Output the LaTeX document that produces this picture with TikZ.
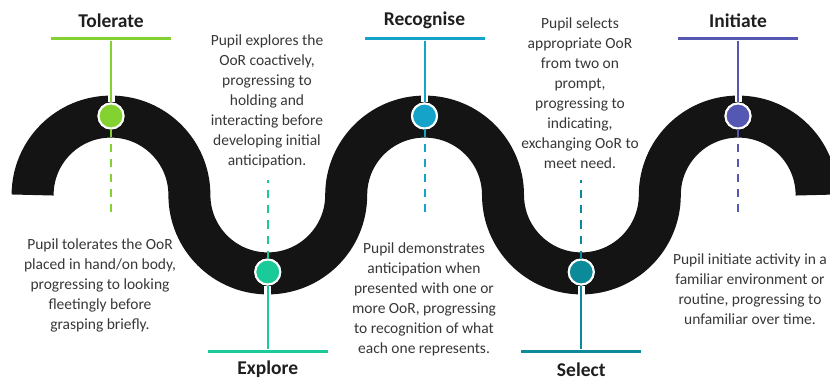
\documentclass[tikz,border=0pt]{standalone}
\usepackage{fontspec}
\setmainfont{Carlito}
\definecolor{tol}{RGB}{132,210,48}
\definecolor{exp}{RGB}{26,202,152}
\definecolor{rec}{RGB}{22,163,201}
\definecolor{sel}{RGB}{11,139,153}
\definecolor{ini}{RGB}{84,88,178}
\definecolor{band}{RGB}{20,20,20}
\definecolor{txt}{RGB}{55,55,55}
\begin{document}
\begin{tikzpicture}[x=1pt,y=1pt,
  dot/.style={circle,draw=white,line width=2pt,minimum size=25pt,inner sep=0pt},
  head/.style={font=\bfseries\fontsize{19.5}{21}\selectfont,text=black!88},
  desc/.style={align=center,font=\fontsize{15.5}{20}\selectfont,text=txt},
  barbox/.style={minimum width=120pt,minimum height=3pt,inner sep=0pt,draw=none},
  stem/.style={line width=2pt},
  gap/.style={white,line width=7pt},
  dsh/.style={line width=2pt,dash pattern=on 8pt off 7pt}]
\useasboundingbox (0,0) rectangle (830,378);
\clip (0,0) rectangle (830,378);
% serpentine band
\draw[line width=42pt,color=band] (32.6,183)
  arc[start angle=180,end angle=0,radius=78.4pt]
  arc[start angle=180,end angle=360,radius=78.4pt]
  arc[start angle=180,end angle=0,radius=78.4pt]
  arc[start angle=180,end angle=360,radius=78.4pt]
  arc[start angle=180,end angle=0,radius=78.4pt];
% dots
\node[dot,fill=tol] (d1) at (111,262) {};
\node[dot,fill=exp] (d2) at (267.75,106) {};
\node[dot,fill=rec] (d3) at (424.5,262) {};
\node[dot,fill=sel] (d4) at (581.25,106) {};
\node[dot,fill=ini] (d5) at (738,262) {};
% bars
\node[barbox,fill=tol] (b1) at (111,339) {};
\node[barbox,fill=exp] (b2) at (267.75,27) {};
\node[barbox,fill=rec] (b3) at (424.5,339) {};
\node[barbox,fill=sel] (b4) at (581.25,27) {};
\node[barbox,fill=ini] (b5) at (738,339) {};
% stems
\foreach \i/\c in {1/tol,2/exp,3/rec,4/sel,5/ini}{
  \draw[gap] (b\i) -- (d\i);
  \draw[stem,\c] (b\i) -- (d\i);
}
% dots on top again
\node[dot,fill=tol] at (d1) {};
\node[dot,fill=exp] at (d2) {};
\node[dot,fill=rec] at (d3) {};
\node[dot,fill=sel] at (d4) {};
\node[dot,fill=ini] at (d5) {};
% dashed guides
\coordinate (e1) at (111,165);
\coordinate (e2) at (267.75,198);
\coordinate (e3) at (424.5,165);
\coordinate (e4) at (581.25,198);
\coordinate (e5) at (738,165);
\draw[dsh,tol] (d1) -- (e1);
\draw[dsh,exp] (d2) -- (e2);
\draw[dsh,rec] (d3) -- (e3);
\draw[dsh,sel] (d4) -- (e4);
\draw[dsh,ini] (d5) -- (e5);
% headings
\node[head] (t1) at (111,357.5) {Tolerate};
\node[head] (t2) at (267.75,8.5) {Explore};
\node[head] (t3) at (424.5,357.5) {Recognise};
\node[head] (t4) at (581.25,8.5) {Select};
\node[head] (t5) at (738,357.5) {Initiate};
% descriptions
\node[desc] (x1) at (100,93) {Pupil tolerates the OoR\\placed in hand/on body,\\progressing to looking\\fleetingly before\\grasping briefly.};
\node[desc] (x2) at (267,276.5) {Pupil explores the\\OoR coactively,\\progressing to\\holding and\\interacting before\\developing initial\\anticipation.};
\node[desc] (x3) at (424,79) {Pupil demonstrates\\anticipation when\\presented with one or\\more OoR, progressing\\to recognition of what\\each one represents.};
\node[desc] (x4) at (580,285) {Pupil selects\\appropriate OoR\\from two on\\prompt,\\progressing to\\indicating,\\exchanging OoR to\\meet need.};
\node[desc] (x5) at (750,89) {Pupil initiate activity in a\\familiar environment or\\routine, progressing to\\unfamiliar over time.};
\end{tikzpicture}
\end{document}
